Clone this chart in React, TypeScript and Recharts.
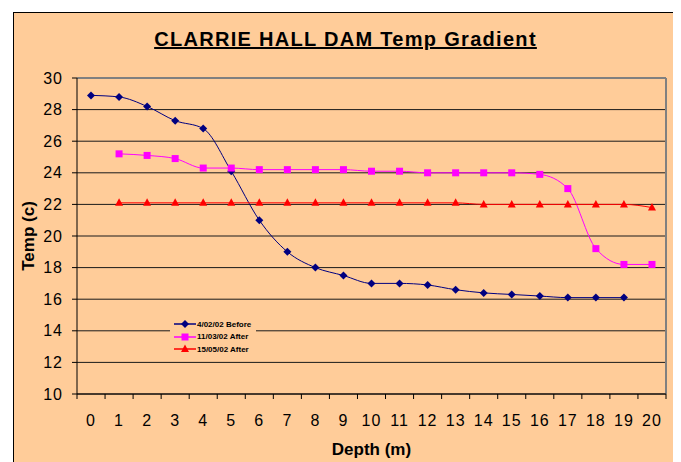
import {
  CartesianGrid,
  Legend,
  Line,
  LineChart,
  ReferenceLine,
  XAxis,
  YAxis,
} from 'recharts';

const depth = [0, 1, 2, 3, 4, 5, 6, 7, 8, 9, 10, 11, 12, 13, 14, 15, 16, 17, 18, 19, 20];
const before = [
  28.9, 28.8, 28.2, 27.3, 26.8, 24.1, 21.0, 19.0, 18.0, 17.5, 17.0, 17.0, 16.9, 16.6, 16.4,
  16.3, 16.2, 16.1, 16.1, 16.1, null,
];
const after1 = [
  null, 25.2, 25.1, 24.9, 24.3, 24.3, 24.2, 24.2, 24.2, 24.2, 24.1, 24.1, 24.0, 24.0, 24.0,
  24.0, 23.9, 23.0, 19.2, 18.2, 18.2,
];
const after2 = [
  null, 22.1, 22.1, 22.1, 22.1, 22.1, 22.1, 22.1, 22.1, 22.1, 22.1, 22.1, 22.1, 22.1, 22.0,
  22.0, 22.0, 22.0, 22.0, 22.0, 21.8,
];
const yTicks = [10, 12, 14, 16, 18, 20, 22, 24, 26, 28, 30];
const seriesNames = ['4/02/02 Before', '11/03/02 After', '15/05/02 After'];

const data = depth.map((d, i) => ({
  depth: d,
  before: before[i],
  after1: after1[i],
  after2: after2[i],
}));

// labels at each depth, tick marks half way between (Excel category style)
const xTicks = [...depth.map((d) => d - 0.5), 20.5, ...depth].sort((a, b) => a - b);

const NAVY = '#000080';
const PINK = '#FF00FF';
const RED = '#FF0000';
const FONT = '"Liberation Sans", Arial, sans-serif';

function Diamond({ cx, cy, fill }: any) {
  return <polygon points={`${cx},${cy - 4} ${cx + 4},${cy} ${cx},${cy + 4} ${cx - 4},${cy}`} fill={fill} />;
}
function Square({ cx, cy, fill }: any) {
  return <rect x={cx - 3.5} y={cy - 3.5} width={7} height={7} fill={fill} />;
}
function Triangle({ cx, cy, fill }: any) {
  return <polygon points={`${cx},${cy - 4.5} ${cx + 4},${cy + 3} ${cx - 4},${cy + 3}`} fill={fill} />;
}

const makeDot = (Shape: any, fill: string) => (p: any) => {
  if (p.cy == null || p.value == null) return <g key={p.index} />;
  return <Shape key={p.index} cx={p.cx} cy={p.cy} fill={fill} />;
};

function XTick({ x, y, payload }: any) {
  const v = payload.value;
  if (Number.isInteger(v)) {
    return (
      <text
        x={x}
        y={y + 32}
        textAnchor="middle"
        fontSize={16}
        letterSpacing={1}
        fontFamily={FONT}
        fill="#000"
      >
        {v}
      </text>
    );
  }
  return <line x1={x} y1={y} x2={x} y2={y + 5} stroke="#000" />;
}

function LegendBox() {
  const shapes = [Diamond, Square, Triangle];
  const colors = [NAVY, PINK, RED];
  return (
    <div style={{ background: '#FFCC99', width: 86, height: 39, paddingTop: 2 }}>
      {seriesNames.map((n, i) => {
        const S = shapes[i];
        return (
          <div key={n} style={{ display: 'flex', alignItems: 'center', height: 12.5 }}>
            <svg width={24} height={10} style={{ marginLeft: 3 }}>
              <line x1={1} y1={5} x2={23} y2={5} stroke={colors[i]} strokeWidth={1.5} />
              <S cx={12} cy={5} fill={colors[i]} />
            </svg>
            <span style={{ fontSize: 8, fontWeight: 'bold', fontFamily: FONT, color: '#000' }}>{n}</span>
          </div>
        );
      })}
    </div>
  );
}

export default function App() {
  return (
    <div
      style={{
        marginLeft: 5,
        marginTop: 4,
        width: 665,
        height: 460,
        border: '1px solid #000',
        background: '#FFCC99',
        position: 'relative',
        fontFamily: FONT,
        boxSizing: 'border-box',
      }}
    >
      <div
        style={{
          position: 'absolute',
          left: 0,
          width: 663,
          top: 15,
          textAlign: 'center',
          fontSize: 20,
          letterSpacing: 1.3,
          fontWeight: 'bold',
          textDecoration: 'underline',
          color: '#000',
        }}
      >
        CLARRIE HALL DAM Temp Gradient
      </div>
      <LineChart
        width={663}
        height={448}
        data={data}
        margin={{ top: 65, right: 11, left: 8, bottom: 5 }}
      >
        <CartesianGrid horizontal vertical={false} stroke="#1a1a1a" />
        <XAxis
          dataKey="depth"
          type="number"
          domain={[-0.5, 20.5]}
          ticks={xTicks}
          interval={0}
          tick={<XTick />}
          tickLine={false}
          tickSize={0}
          tickMargin={0}
          height={62}
          axisLine={{ stroke: '#000' }}
          label={{
            value: 'Depth (m)',
            position: 'insideBottom',
            offset: 1,
            style: { fontSize: 17, fontWeight: 'bold', fill: '#000', fontFamily: FONT },
          }}
        />
        <YAxis
          domain={[10, 30]}
          ticks={yTicks}
          interval={0}
          width={55}
          tickSize={5}
          tickMargin={9}
          tickLine={{ stroke: '#000' }}
          axisLine={{ stroke: '#000' }}
          tick={{ fontSize: 16, letterSpacing: 1, fill: '#000', fontFamily: FONT }}
          label={{
            value: 'Temp (c)',
            angle: -90,
            position: 'insideLeft',
            offset: 6,
            style: { textAnchor: 'middle', fontSize: 17, fontWeight: 'bold', fill: '#000', fontFamily: FONT },
          }}
        />
        <ReferenceLine y={30} stroke="#808080" strokeWidth={2} />
        <ReferenceLine x={20.5} stroke="#808080" strokeWidth={2} />
        <Legend
          layout="vertical"
          align="center"
          verticalAlign="middle"
          content={() => <LegendBox />}
          wrapperStyle={{ left: 156, top: 303, width: 86, height: 39 }}
        />
        <Line
          type="monotone"
          dataKey="before"
          name={seriesNames[0]}
          stroke={NAVY}
          strokeWidth={1}
          dot={makeDot(Diamond, NAVY)}
          isAnimationActive={false}
        />
        <Line
          type="monotone"
          dataKey="after1"
          name={seriesNames[1]}
          stroke={PINK}
          strokeWidth={1}
          dot={makeDot(Square, PINK)}
          isAnimationActive={false}
        />
        <Line
          type="monotone"
          dataKey="after2"
          name={seriesNames[2]}
          stroke={RED}
          strokeWidth={1}
          dot={makeDot(Triangle, RED)}
          isAnimationActive={false}
        />
      </LineChart>
    </div>
  );
}
